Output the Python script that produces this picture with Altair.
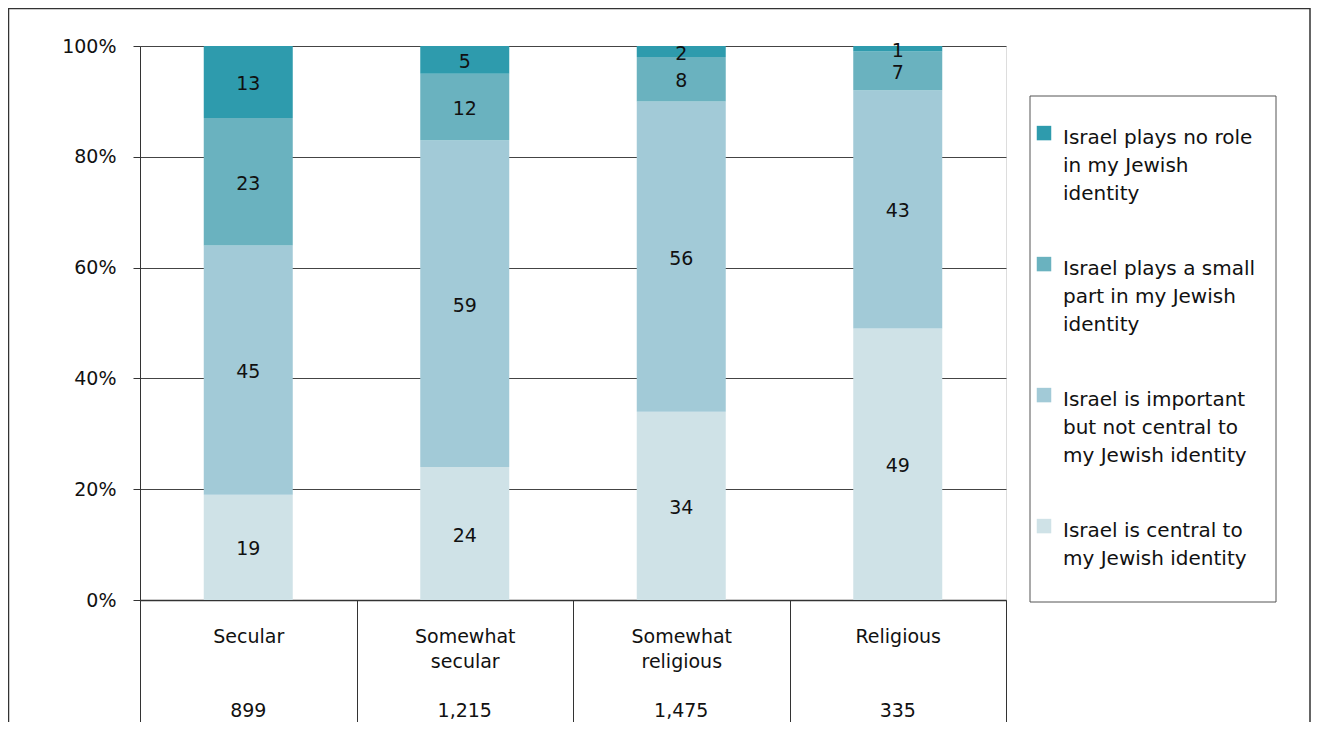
import altair as alt
import pandas as pd

categories = ["Secular", "Somewhat secular", "Somewhat religious", "Religious"]
sample_sizes = ["899", "1,215", "1,475", "335"]

series = [
    "Israel is central to my Jewish identity",
    "Israel is important but not central to my Jewish identity",
    "Israel plays a small part in my Jewish identity",
    "Israel plays no role in my Jewish identity",
]
central = [19, 24, 34, 49]
important = [45, 59, 56, 43]
small_part = [23, 12, 8, 7]
no_role = [13, 5, 2, 1]

legend_order = [series[3], series[2], series[1], series[0]]
legend_colors = ["#2E9BAD", "#6AB2BF", "#A2CAD7", "#CFE2E7"]
legend_lines = {
    series[3]: ["Israel plays no role", "in my Jewish", "identity"],
    series[2]: ["Israel plays a small", "part in my Jewish", "identity"],
    series[1]: ["Israel is important", "but not central to", "my Jewish identity"],
    series[0]: ["Israel is central to", "my Jewish identity"],
}

FONT = "DejaVu Sans"

rows = []
for ci, cat in enumerate(categories):
    for si, (name, vals) in enumerate(zip(series, [central, important, small_part, no_role])):
        rows.append({"cat": cat, "series": name, "value": vals[ci], "ord": si})
df = pd.DataFrame(rows)
df_n = pd.DataFrame({"cat": categories, "n": sample_sizes})

expr = "datum.label"
for name, lines in legend_lines.items():
    arr = "[" + ",".join("'" + l + "'" for l in lines) + "]"
    expr = f"datum.label == '{name}' ? {arr} : ({expr})"

x_enc = alt.X(
    "cat:N",
    sort=categories,
    scale=alt.Scale(paddingInner=0, paddingOuter=0),
    axis=alt.Axis(
        title=None, labelAngle=0, tickBand="extent", tickSize=122,
        labelPadding=-95, labelExpr="split(datum.label, ' ')",
        labelBaseline="top", labelLineHeight=25, labelFontSize=19,
        labelFont=FONT, labelColor="#111", tickColor="#333",
        domainColor="#333", domainWidth=1.5, tickWidth=1,
    ),
)

base = alt.Chart(df).transform_stack(
    stack="value", groupby=["cat"], sort=[alt.SortField("ord", order="ascending")],
    as_=["v0", "v1"],
).transform_calculate(mid="(datum.v0 + datum.v1) / 2")

bars = base.mark_bar(size=89).encode(
    x=x_enc,
    y=alt.Y(
        "v0:Q",
        scale=alt.Scale(domain=[0, 100]),
        axis=alt.Axis(
            title=None, values=[0, 20, 40, 60, 80, 100], labelExpr="datum.value + '%'",
            tickSize=7, labelPadding=17, labelFontSize=19, labelFont=FONT,
            labelColor="#111", grid=True, gridColor="#444", gridWidth=1,
            domainColor="#333", tickColor="#333",
        ),
    ),
    y2="v1:Q",
    color=alt.Color(
        "series:N",
        scale=alt.Scale(domain=legend_order, range=legend_colors),
        legend=alt.Legend(
            title=None, orient="none", legendX=894, legendY=72,
            symbolType="M-1,-0.3H1V1.7H-1Z", symbolSize=210, symbolStrokeWidth=0,
            symbolOpacity=1, labelFontSize=20, labelFont=FONT, labelColor="#111",
            labelBaseline="top", labelOffset=9,
            rowPadding=45, labelLimit=400, labelExpr=expr, padding=0,
        ),
    ),
)

labels = base.mark_text(fontSize=19, font=FONT, color="#111", dy=2).encode(
    x=alt.X("cat:N", sort=categories),
    y=alt.Y("mid:Q"),
    text="value:Q",
)

n_text = alt.Chart(df_n).mark_text(fontSize=19, font=FONT, color="#111", baseline="middle").encode(
    x=alt.X("cat:N", sort=categories),
    y=alt.value(665),
    text="n:N",
)

frame_df = pd.DataFrame({"k": [0]})
outer = alt.Chart(frame_df).mark_rect(fillOpacity=0, stroke="#333", strokeWidth=1.5).encode(
    x=alt.value(-131.5), x2=alt.value(1170), y=alt.value(-37.5), y2=alt.value(800)
)
legend_box = alt.Chart(frame_df).mark_rect(fill="white", stroke="#555", strokeWidth=1).encode(
    x=alt.value(890), x2=alt.value(1136), y=alt.value(50), y2=alt.value(556)
)

chart = alt.layer(outer, legend_box, bars, labels, n_text).properties(
    width=866, height=554,
    padding={"left": 132, "top": 38, "right": 305, "bottom": 122},
    autosize=alt.AutoSizeParams(type="none"),
).configure_view(stroke="#333", strokeWidth=1).configure(
    style={"guide-label": {"lineHeight": 28}}
)

chart.save("out.html", embed_options={"renderer": "svg", "actions": False})
